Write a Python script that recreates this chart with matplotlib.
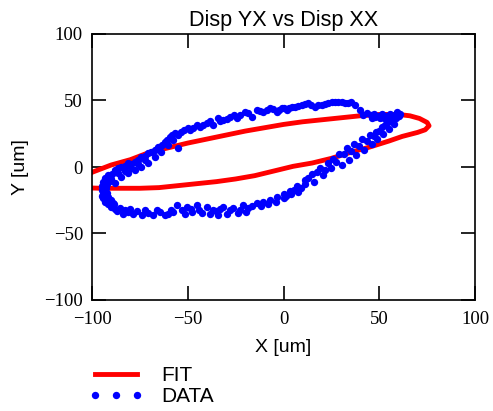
import matplotlib
matplotlib.use("Agg")
import matplotlib.pyplot as plt

# Fitted displacement loop (closed path)
fit_x = [-106, -100, -90, -80, -70, -60, -50, -40, -30, -20, -10, 0, 10, 20, 30, 40,
         50, 60, 66, 71, 75, 76, 74, 70, 62, 55, 45, 35, 25, 15, 5, -5, -15, -25, -35,
         -45, -55, -65, -75, -85, -95, -100, -106, -106]
fit_y = [-10, -4, 1.5, 5.5, 11, 14.5, 18, 21, 24, 27, 29.5, 32, 34, 35.5, 37, 38.5,
         39.5, 39.5, 38.5, 36.5, 33.5, 31, 28, 26, 23, 19.5, 15, 11, 6.5, 3, 0.5, -3,
         -6.5, -9, -11, -12.5, -14, -15.5, -16, -16, -16, -15.8, -14, -10]

# Measured displacement samples
data_x = [
    # upper branch
    41.7, 39.9, 37.3, 33.8, 30.4, 26.9, 23.4, 19.9, 16.4, 12.9, 9.5, 6, 4.3, 1.7, -0.9,
    -3.6, -7, -10.5, -14, -16.6, -20.1, -22.7, -24.4, -27.9, -31.4, -34, -36.7, -40.1,
    -43.6, -47.1,
    35.5, 32, 28.6, 25.1, 21.6, 18.1, 14.6, 11.2, 7.7, 3, 0.4, -2.3, -5.3, -8.8, -12.2,
    -18.3, -25.8, -29.6, -33, -38.4, -41.8, -45.3, -49,
    # right tip
    43.6, 45.5, 47.5, 49.5, 51.5, 53.5, 55.5, 57.5, 59, 60.5, 58.5, 56.5, 54.5, 52.5,
    50.5, 48, 46, 56, 54, 58, 61, 59.5,
    # steep upper-left branch
    -50, -53.5, -56.8, -59.4, -62, -65.6, -67.3, -70.8, -74.4, -77.7, -81, -85, -88, -91.6,
    -57.7, -60.3, -64, -67.3, -70.8, -74.4, -77.7, -81, -85, -88,
    -52, -55, -58, -61, -63.5, -66, -69, -72.5, -76, -79.5, -83, -86.5, -72.5, -76, -79.5,
    -83, -86.5, -89.5, -90, -55,
    # left turn
    -93, -94, -95, -95, -94.5, -94, -93, -91.5, -90, -88, -92, -92.5, -92, -91.5, -90,
    -88.5, -90.5, -93.5, -95,
    # bottom branch
    -89, -85.4, -81, -78.6, -74, -70.8, -68, -64.5, -62, -59, -55.6, -53, -50.4, -47.8,
    -45, -42.6, -40, -36.8, -34, -31.6, -28, -24, -21, -18.5,
    -83, -76.5, -72.5, -66, -60.5, -57.5, -51.5, -48.5, -44, -38.5, -35.5, -33, -29.5,
    -26.5, -22.5, -19.5, -16.5, -87, -80, -84,
    # lower-right branch
    -14, -10.5, -7, -3.5, 0, 3.5, 7, 11, 15, 19, 23, 26, 29, 33, 37, 41, 45, 48.5, 51.5,
    54.5, 57,
    -8, -4, 0, 4, 7.5, 11, 16, 20.5, 25, 30.5, 34, 38, 42, 46, 49, 52, 55, 57.5,
    -12, 1.5, 5.5, 9, 13, 17.5, 21.5, 27.5, 31.5, 35.5, 39.5, 43.5, 47, 50, 53, 56,
]
data_y = [
    # upper branch
    39.1, 42.9, 46.6, 47.9, 49.1, 49.1, 47.9, 46.6, 45.3, 47.9, 46.6, 45.3, 45.3, 42.9,
    44.1, 41.6, 44.1, 41.6, 42.9, 37.8, 41.6, 39.1, 36.6, 37.8, 35.3, 36.6, 31.6, 32.9,
    30.3, 29.1,
    48.6, 48.2, 48.5, 48.8, 47.1, 46.9, 46.4, 47.2, 46.1, 44.2, 44.6, 43.2, 43.4, 42.7,
    42.1, 40.5, 38.8, 36.4, 34.5, 34.4, 31.5, 31.3, 28,
    # right tip
    40.5, 38.8, 40, 38.5, 39.8, 38.2, 39.6, 38.4, 39.8, 38.5, 36.8, 36.2, 37, 36.5,
    37.2, 37.3, 36.6, 34.5, 33.5, 37.5, 39.5, 41,
    # steep upper-left branch
    29.3, 26.3, 25.6, 22.6, 18.8, 15, 12.8, 10.5, 7.5, 3.8, 3, 0, -2.3, -6,
    20.3, 16.5, 11, 7.5, 3, 0, -2, -4.5, -7.5, -12,
    27.5, 24, 23.8, 20.5, 16.5, 13.5, 11.5, 8.5, 5.5, 2, 1, -1, 5, 2, -0.5,
    -3, -4.5, -5.5, -9, 14.5,
    # left turn
    -8, -11, -14, -17, -20, -23, -26, -28, -30, -31.5, -13, -16, -19.5, -22.5, -25,
    -27.5, -10.5, -18, -21.5,
    # bottom branch
    -27, -31, -34, -35, -36, -34.6, -36, -34, -36, -32, -28.6, -32, -30, -34,
    -28.6, -34.6, -30, -32, -36, -30, -32, -34.6, -28.6, -31,
    -32.5, -33, -32.5, -32.5, -35, -33.5, -35.5, -31.5, -32, -35, -33, -31.5, -35,
    -30.5, -32.5, -34, -29.5, -33, -31.5, -35,
    # lower-right branch
    -27, -26, -24.5, -22.5, -20.5, -18, -14, -10, -5, -1, 3, 6, 9.5, 14, 17.5, 21, 24,
    26.5, 30, 33.5, 37,
    -28, -26, -23.5, -20.5, -18.5, -13, -11, -6, -1, 1.5, 5, 9, 13, 17, 21, 24.5, 28.5, 32,
    -29.5, -21.5, -17, -15.5, -8.5, -4, -2.5, 4, 10, 12, 15.5, 19.5, 23, 27, 31.5, 35,
]

ticks = [-100, -50, 0, 50, 100]

SANS = "Liberation Sans"
SERIF = "Liberation Serif"

fig = plt.figure(figsize=(4.93, 4.11), dpi=100)
ax = fig.add_axes([92 / 493, 1 - 300 / 411, 383 / 493, 266 / 411])

fit_line, = ax.plot(fit_x, fit_y, color="#ff0000", lw=3.5, solid_joinstyle="round",
                    zorder=2, label="FIT")
data_pts, = ax.plot(data_x, data_y, linestyle="none", marker="o", ms=5.3,
                    color="#0000ff", markeredgewidth=0, zorder=3, label="DATA")

ax.set_xlim(-100, 100)
ax.set_ylim(-100, 100)
ax.set_xticks(ticks)
ax.set_yticks(ticks)
ax.tick_params(axis="both", direction="in", length=10, width=1.2, top=True, right=True,
               labelsize=13.5)
ax.tick_params(axis="x", pad=8)
ax.tick_params(axis="y", pad=6.5)
for lab in ax.get_xticklabels() + ax.get_yticklabels():
    lab.set_fontfamily(SERIF)
for sp in ax.spines.values():
    sp.set_linewidth(1.2)

ax.set_title("Disp YX vs Disp XX", fontsize=15.6, family=SANS, pad=6)
ax.set_xlabel("X [um]", fontsize=14, family=SANS)
ax.set_ylabel("Y [um]", fontsize=14, family=SANS)
ax.xaxis.set_label_coords(0.5, -0.145)
ax.yaxis.set_label_coords(-0.165, 0.5)

fig.legend(handles=[fit_line, data_pts], labels=["FIT", "DATA"], loc="upper left",
           bbox_to_anchor=(89 / 493, 1 - 366 / 411), frameon=False, borderpad=0,
           borderaxespad=0, numpoints=3, handlelength=2.6, handletextpad=0.85,
           labelspacing=0.1, prop={"family": SANS, "size": 15})

fig.savefig("out.png", dpi=100)
